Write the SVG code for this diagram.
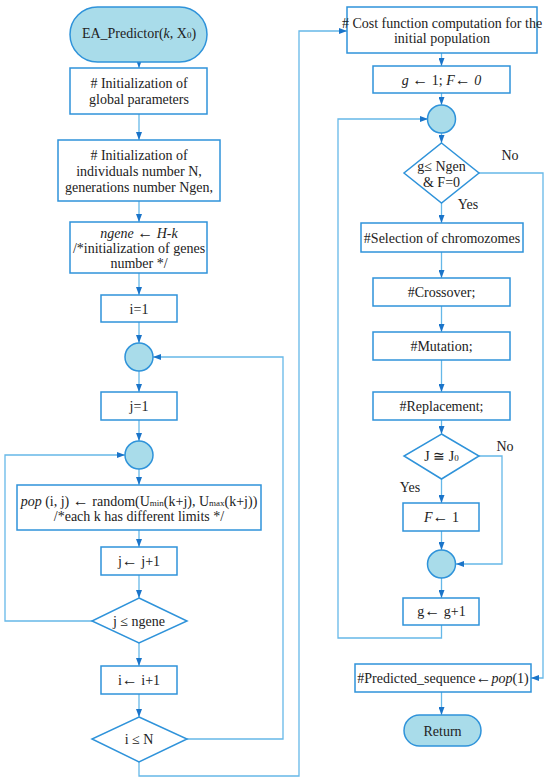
<svg xmlns="http://www.w3.org/2000/svg" width="550" height="782" viewBox="0 0 550 782" font-family="'Liberation Serif', 'DejaVu Serif', serif">
<style>
.box{fill:#ffffff;stroke:#2f93da;stroke-width:1.5}
.term{fill:#a9dcea;stroke:#2f93da;stroke-width:1.5}
.con{fill:none;stroke:#66b8e8;stroke-width:1.3}
text{font-family:'Liberation Serif', 'DejaVu Serif', serif;font-size:14px;fill:#222;text-anchor:middle}
.it{font-style:italic}
.sub{font-size:9px}
.ar{font-size:16px}
</style>
<defs>
<marker id="ah" markerWidth="8" markerHeight="6" refX="8" refY="3" orient="auto" markerUnits="userSpaceOnUse">
<path d="M0,0 L8,3 L0,6 z" fill="#1a74c9"/>
</marker>
</defs>
<rect width="550" height="782" fill="#ffffff"/>

<g id="connectors">
<path class="con" marker-end="url(#ah)" d="M139,62 V68"/>
<path class="con" marker-end="url(#ah)" d="M139,114 V140"/>
<path class="con" marker-end="url(#ah)" d="M139,201 V222"/>
<path class="con" marker-end="url(#ah)" d="M139,273 V295"/>
<path class="con" marker-end="url(#ah)" d="M139,322 V343"/>
<path class="con" marker-end="url(#ah)" d="M139,371 V392"/>
<path class="con" marker-end="url(#ah)" d="M139,420 V441"/>
<path class="con" marker-end="url(#ah)" d="M139,469 V485"/>
<path class="con" marker-end="url(#ah)" d="M139,530 V547"/>
<path class="con" marker-end="url(#ah)" d="M139,575 V598"/>
<path class="con" marker-end="url(#ah)" d="M92,621 H5 V455 H125"/>
<path class="con" marker-end="url(#ah)" d="M139,643 V666"/>
<path class="con" marker-end="url(#ah)" d="M139,694 V717"/>
<path class="con" marker-end="url(#ah)" d="M187,739 H283 V357 H153"/>
<path class="con" marker-end="url(#ah)" d="M139,762 V776 H299 V31 H347"/>
<path class="con" marker-end="url(#ah)" d="M441.5,53 V66"/>
<path class="con" marker-end="url(#ah)" d="M441.5,93 V105"/>
<path class="con" marker-end="url(#ah)" d="M441.5,133 V143"/>
<path class="con" marker-end="url(#ah)" d="M441.5,203 V223"/>
<path class="con" marker-end="url(#ah)" d="M441.5,252 V278"/>
<path class="con" marker-end="url(#ah)" d="M441.5,306 V332"/>
<path class="con" marker-end="url(#ah)" d="M441.5,360 V392"/>
<path class="con" marker-end="url(#ah)" d="M441.5,420 V434"/>
<path class="con" marker-end="url(#ah)" d="M441.5,479 V503"/>
<path class="con" marker-end="url(#ah)" d="M441.5,531 V550"/>
<path class="con" marker-end="url(#ah)" d="M479,456 H502 V564 H456"/>
<path class="con" marker-end="url(#ah)" d="M441.5,578 V598"/>
<path class="con" marker-end="url(#ah)" d="M441.5,625 V638 H338 V119 H428"/>
<path class="con" marker-end="url(#ah)" d="M479,173 H543 V678 H531"/>
<path class="con" marker-end="url(#ah)" d="M441.5,692 V715"/>
<text x="510" y="160">No</text>
<text x="468" y="209">Yes</text>
<text x="505" y="451">No</text>
<text x="410" y="492">Yes</text>
</g>

<g id="start">
<rect class="term" x="70" y="7" width="137" height="55" rx="27.5"/>
<text x="139" y="38">EA_Predictor(<tspan class="it">k</tspan>, X<tspan class="sub">0</tspan>)</text>
</g>
<g id="init-global">
<rect class="box" x="70" y="68" width="137" height="46"/>
<text x="139" y="88"># Initialization of</text>
<text x="139" y="104">global parameters</text>
</g>
<g id="init-individuals">
<rect class="box" x="58" y="140" width="162" height="61"/>
<text x="139" y="160"># Initialization of</text>
<text x="139" y="176">individuals number N,</text>
<text x="139" y="192">generations number Ngen,</text>
</g>
<g id="init-genes">
<rect class="box" x="70" y="222" width="137" height="51"/>
<text x="139" y="238"><tspan class="it">ngene</tspan> <tspan class="ar">←</tspan> <tspan class="it">H-k</tspan></text>
<text x="139" y="253">/*initialization of genes</text>
<text x="139" y="268">number */</text>
</g>
<g id="i1">
<rect class="box" x="101" y="295" width="76" height="27"/>
<text x="139" y="314">i=1</text>
</g>
<g id="junction1">
<circle class="term" cx="139" cy="357" r="14"/>
</g>
<g id="j1">
<rect class="box" x="101" y="392" width="76" height="28"/>
<text x="139" y="411">j=1</text>
</g>
<g id="junction2">
<circle class="term" cx="139" cy="455" r="14"/>
</g>
<g id="pop">
<rect class="box" x="17" y="485" width="244" height="45"/>
<text x="139" y="506"><tspan class="it">pop</tspan> (i, j) <tspan class="ar">←</tspan> random(U<tspan class="sub">min</tspan>(k+j), U<tspan class="sub">max</tspan>(k+j))</text>
<text x="139" y="521">/*each k has different limits */</text>
</g>
<g id="jinc">
<rect class="box" x="101" y="547" width="76" height="28"/>
<text x="139" y="566">j<tspan class="ar">←</tspan> j+1</text>
</g>
<g id="jcond">
<polygon class="box" points="139,598 187,621 139,643 92,621"/>
<text x="139" y="626">j ≤ ngene</text>
</g>
<g id="iinc">
<rect class="box" x="101" y="666" width="76" height="28"/>
<text x="139" y="685">i<tspan class="ar">←</tspan> i+1</text>
</g>
<g id="icond">
<polygon class="box" points="139,717 187,739 139,762 92,739"/>
<text x="139" y="744">i ≤ N</text>
</g>

<g id="cost">
<rect class="box" x="347" y="7" width="190" height="46"/>
<text x="442" y="28"># Cost function computation for the</text>
<text x="442" y="43">initial population</text>
</g>
<g id="ginit">
<rect class="box" x="373" y="66" width="137" height="27"/>
<text x="441.5" y="85"><tspan class="it">g</tspan> <tspan class="ar">←</tspan> 1; <tspan class="it">F</tspan><tspan class="ar">←</tspan> <tspan class="it">0</tspan></text>
</g>
<g id="junction3">
<circle class="term" cx="441.5" cy="119" r="14"/>
</g>
<g id="gcond">
<polygon class="box" points="441.5,143 479,173 441.5,203 404,173"/>
<text x="441.5" y="171">g≤ Ngen</text>
<text x="441.5" y="187">&amp; F=0</text>
</g>
<g id="selection">
<rect class="box" x="361" y="223" width="162" height="29"/>
<text x="442" y="243">#Selection of chromozomes</text>
</g>
<g id="crossover">
<rect class="box" x="373" y="278" width="137" height="28"/>
<text x="441.5" y="297">#Crossover;</text>
</g>
<g id="mutation">
<rect class="box" x="373" y="332" width="137" height="28"/>
<text x="441.5" y="351">#Mutation;</text>
</g>
<g id="replacement">
<rect class="box" x="373" y="392" width="137" height="28"/>
<text x="441.5" y="411">#Replacement;</text>
</g>
<g id="jcond2">
<polygon class="box" points="441.5,434 479,456 441.5,479 404,456"/>
<text x="441.5" y="461">J ≅ J<tspan class="sub">0</tspan></text>
</g>
<g id="fset">
<rect class="box" x="403" y="503" width="76" height="28"/>
<text x="441.5" y="522"><tspan class="it">F</tspan><tspan class="ar">←</tspan> 1</text>
</g>
<g id="junction4">
<circle class="term" cx="441.5" cy="564" r="14"/>
</g>
<g id="ginc">
<rect class="box" x="403" y="598" width="76" height="27"/>
<text x="441.5" y="616">g<tspan class="ar">←</tspan> g+1</text>
</g>
<g id="predicted">
<rect class="box" x="355" y="664" width="176" height="28"/>
<text x="443" y="683">#Predicted_sequence<tspan class="ar">←</tspan><tspan class="it">pop</tspan>(1)</text>
</g>
<g id="return">
<rect class="term" x="404" y="715" width="77" height="31" rx="15.5"/>
<text x="442.5" y="736">Return</text>
</g>
</svg>
